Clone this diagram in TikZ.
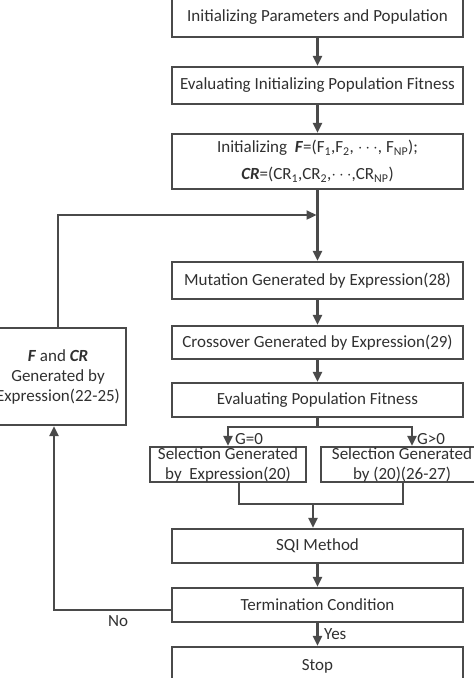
\documentclass[tikz,border=0pt]{standalone}
\usepackage{fontspec}
\setmainfont{Carlito}
\usetikzlibrary{arrows.meta}
\definecolor{lc}{HTML}{4a4a4a}
\definecolor{tc}{HTML}{303030}
\begin{document}
\begin{tikzpicture}[x=1pt,y=-1pt,
  box/.style={draw=lc, line width=2.3pt, minimum width=291pt, inner sep=0pt, align=center, font=\fontsize{17}{20}\selectfont, text=tc},
  arr/.style={draw=lc, line width=2.3pt, -{Triangle[length=10pt,width=9pt]}},
  ln/.style={draw=lc, line width=2.3pt},
  lab/.style={font=\fontsize{17}{20}\selectfont, text=tc, inner sep=0pt}]
\useasboundingbox (0,0) rectangle (474,678);
\node[box, minimum height=39pt] (b1) at (317.5,17.5) {Initializing Parameters and Population};
\node[box, minimum height=37pt] (b2) at (317.5,85.5) {Evaluating Initializing Population Fitness};
\node[box, minimum height=55pt, font=\fontsize{17}{27}\selectfont] (b3) at (317.5,161.5) {Initializing \ \textbf{\textit{F}}=(F\textsubscript{1},F\textsubscript{2}, $\cdots$, F\textsubscript{NP});\\ \textbf{\textit{CR}}=(CR\textsubscript{1},CR\textsubscript{2},$\cdots$,CR\textsubscript{NP})};
\coordinate (j) at (317.5,215);
\node[box, minimum height=37pt] (mut) at (317.5,280.5) {Mutation Generated by Expression(28)};
\node[box, minimum height=33pt] (cro) at (317.5,342.5) {Crossover Generated by Expression(29)};
\node[box, minimum height=34pt] (evp) at (317.5,400) {Evaluating Population Fitness};
\node[box, minimum width=156pt, minimum height=35pt, font=\fontsize{17}{20}\selectfont] (sl) at (228,464.5) {Selection Generated\\by\ \ Expression(20)};
\node[box, minimum width=162pt, minimum height=35pt, font=\fontsize{17}{20}\selectfont] (sr) at (402,464.5) {Selection Generated\\by (20)(26-27)};
\node[box, minimum height=34pt] (sqi) at (317.5,546) {SQI Method};
\node[box, minimum height=34pt] (term) at (317.5,605) {Termination Condition};
\node[box, minimum height=38pt] (stop) at (317.5,666) {Stop};
\node[box, minimum width=136pt, minimum height=97pt, font=\fontsize{17}{20}\selectfont] (fb) at (58,376.5) {\textbf{\textit{F}} and \textbf{\textit{CR}}\\Generated by\\Expression(22-25)};
\draw[arr] (b1) -- (b2);
\draw[arr] (b2) -- (b3);
\draw[arr] (b3) -- (mut);
\draw[arr] (fb.north) |- ([xshift=-1pt]j);
\draw[arr] (mut) -- (cro);
\draw[arr] (cro) -- (evp);
\coordinate (sp) at (317.5,427);
\draw[ln] (evp.south) -- (sp);
\draw[arr] (sp) -| (sl.north);
\draw[arr] (sp) -| ([xshift=10pt]sr.north);
\node[lab, anchor=west] (g0) at (235,439) {G=0};
\node[lab, anchor=west] (g1) at (417,439) {G>0};
\coordinate (m) at (313,504);
\draw[ln] ([xshift=11pt]sl.south) |- (m) -| ([xshift=1pt]sr.south);
\draw[arr] (m) -- (sqi.north -| m);
\draw[arr] (sqi) -- (term);
\draw[arr] (term) -- (stop);
\node[lab] (no) at (118,621) {No};
\node[lab, anchor=west] (yes) at (324,634) {Yes};
\draw[arr] ([yshift=-5pt]term.west) -| ([xshift=-4pt]fb.south);
\end{tikzpicture}
\end{document}
